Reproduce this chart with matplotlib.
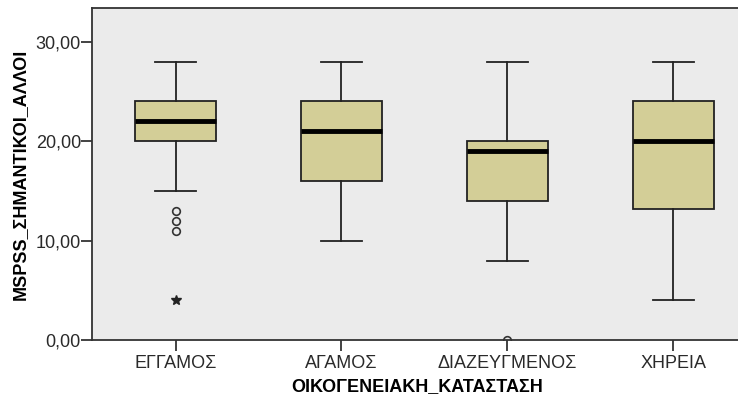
import matplotlib.pyplot as plt

# categories and five-number summaries
categories = ["ΕΓΓΑΜΟΣ", "ΑΓΑΜΟΣ", "ΔΙΑΖΕΥΓΜΕΝΟΣ", "ΧΗΡΕΙΑ"]
whislo = [15, 10, 8, 4]
q1 = [20, 16, 14, 13.2]
med = [22, 21, 19, 20]
q3 = [24, 24, 20, 24]
whishi = [28, 28, 28, 28]
outliers_circle = [[11, 12, 13], [], [0], []]
outliers_star = [[4], [], [], []]

plt.rcParams['font.family'] = ['Liberation Sans', 'DejaVu Sans']

fig = plt.figure(figsize=(7.38, 4.01), dpi=100)
ax = fig.add_axes([0.1247, 0.152, 0.88, 0.828])
ax.set_facecolor('#EBEBEB')

stats = []
for i in range(len(categories)):
    stats.append(dict(whislo=whislo[i], q1=q1[i], med=med[i], q3=q3[i],
                      whishi=whishi[i], fliers=outliers_circle[i]))

ax.bxp(stats, positions=range(len(categories)), widths=0.485, patch_artist=True,
       boxprops=dict(facecolor='#D3CE97', edgecolor='#222222', linewidth=1.3),
       medianprops=dict(color='black', linewidth=3.5),
       whiskerprops=dict(color='#222222', linewidth=1.3),
       capprops=dict(color='#222222', linewidth=1.3),
       capwidths=0.25,
       flierprops=dict(marker='o', markerfacecolor='none', markeredgecolor='#333333',
                       markersize=5.5, markeredgewidth=1.2))

for i, vals in enumerate(outliers_star):
    for v in vals:
        ax.plot(i, v, marker='*', color='#222222', markersize=7, linestyle='none')

ax.set_xlim(-0.503, 3.41)
ax.set_ylim(0, 33.4)
ax.set_yticks([0, 10, 20, 30])
ax.set_yticklabels(["0,00", "10,00", "20,00", "30,00"])
ax.set_xticks(range(len(categories)))
ax.set_xticklabels(categories)
ax.tick_params(axis='both', labelsize=13, labelcolor='#2a2a2a', length=8, width=1.2, color='#222222')
ax.tick_params(axis='y', pad=0)
ax.tick_params(axis='x', pad=3)

for s in ax.spines.values():
    s.set_color('#333333')
    s.set_linewidth(1.3)

ax.set_ylabel("MSPSS_ΣΗΜΑΝΤΙΚΟΙ_ΑΛΛΟΙ", fontsize=13, fontweight='bold', labelpad=5)
ax.set_xlabel("ΟΙΚΟΓΕΝΕΙΑΚΗ_ΚΑΤΑΣΤΑΣΗ", fontsize=13, fontweight='bold', labelpad=4)

fig.savefig("out.png", dpi=100)
